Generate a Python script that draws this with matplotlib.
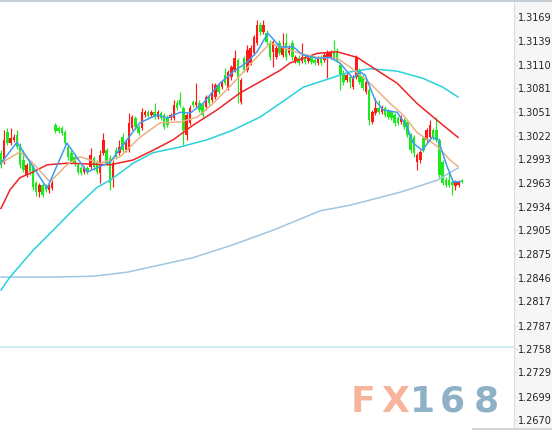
import numpy as np
import matplotlib.pyplot as plt
from matplotlib.patches import Rectangle
from matplotlib.lines import Line2D

# =================================
# DATA (prices in pips, i.e. price x 10000)
# =================================

opens = [
    13001, 12989, 13027, 13013, 13017, 13023, 13010, 12992, 12973, 12989,
    12983, 12963, 12952, 12961, 12960, 12955, 12957, 13035, 13032, 13032,
    13027, 13008, 13001, 12996, 12986, 12982, 12977, 12982, 12983, 12994,
    12988, 12976, 13001, 13004, 12994, 12970, 13004, 13001, 13020, 13004,
    13004, 13032, 13044, 13033, 13032, 13048, 13051, 13048, 13051, 13045,
    13050, 13048, 13045, 13044, 13044, 13062, 13066, 13056, 13023, 13038,
    13064, 13060, 13062, 13060, 13058, 13070, 13066, 13070, 13085, 13082,
    13097, 13081, 13095, 13103, 13116, 13064, 13118, 13103, 13112, 13124,
    13137, 13159, 13150, 13149, 13137, 13126, 13119, 13137, 13122, 13137,
    13124, 13137, 13114, 13118, 13114, 13119, 13114, 13119, 13116, 13112,
    13119, 13116, 13118, 13119, 13126, 13126, 13110, 13100, 13091, 13095,
    13082, 13095, 13103, 13095, 13076, 13079, 13039, 13050, 13056, 13051,
    13056, 13053, 13051, 13048, 13044, 13039, 13041, 13039, 13023, 13020,
    12989, 12992, 13019, 13017, 13020, 13029, 13029, 13017, 12989, 12967,
    12967, 12965, 12960, 12961, 12967,
]
highs = [
    13004, 13029, 13032, 13032, 13024, 13029, 13013, 13004, 12988, 12992,
    12986, 12966, 12963, 12963, 12962, 12962, 12967, 13038, 13034, 13034,
    13029, 13010, 13004, 12998, 12988, 12984, 12984, 12984, 13007, 12997,
    12992, 13004, 13025, 13007, 12998, 12992, 13008, 13017, 13025, 13017,
    13050, 13048, 13046, 13035, 13056, 13054, 13054, 13054, 13062, 13054,
    13053, 13050, 13048, 13050, 13066, 13066, 13076, 13059, 13050, 13060,
    13066, 13087, 13066, 13062, 13072, 13072, 13087, 13087, 13087, 13091,
    13106, 13103, 13110, 13128, 13118, 13093, 13121, 13134, 13134, 13147,
    13165, 13163, 13165, 13153, 13140, 13140, 13134, 13140, 13149, 13149,
    13134, 13140, 13122, 13122, 13137, 13122, 13121, 13122, 13118, 13121,
    13122, 13126, 13128, 13128, 13140, 13131, 13112, 13103, 13100, 13097,
    13097, 13122, 13106, 13097, 13091, 13081, 13054, 13069, 13066, 13060,
    13059, 13055, 13054, 13050, 13046, 13048, 13044, 13041, 13025, 13023,
    13001, 13004, 13022, 13032, 13041, 13032, 13045, 13019, 12992, 12971,
    12976, 12967, 12967, 12967, 12968,
]
lows = [
    12982, 12987, 13010, 13010, 13014, 13006, 12982, 12977, 12971, 12973,
    12955, 12947, 12946, 12946, 12952, 12951, 12955, 13025, 13025, 13023,
    13010, 12992, 12987, 12984, 12975, 12973, 12975, 12975, 12981, 12979,
    12975, 12963, 12998, 12986, 12955, 12958, 12993, 12998, 13002, 13002,
    13002, 13029, 13030, 13023, 13029, 13045, 13044, 13045, 13043, 13043,
    13041, 13030, 13033, 13041, 13041, 13054, 13058, 13010, 13017, 13035,
    13058, 13058, 13051, 13045, 13054, 13060, 13064, 13067, 13074, 13080,
    13085, 13079, 13091, 13101, 13062, 13061, 13101, 13101, 13110, 13122,
    13134, 13147, 13148, 13134, 13116, 13107, 13117, 13122, 13119, 13116,
    13122, 13116, 13112, 13110, 13112, 13111, 13112, 13111, 13110, 13110,
    13110, 13113, 13093, 13117, 13116, 13113, 13079, 13085, 13088, 13081,
    13080, 13092, 13086, 13079, 13074, 13035, 13036, 13048, 13049, 13049,
    13045, 13043, 13041, 13034, 13035, 13036, 13030, 13020, 13001, 12996,
    12979, 12988, 13002, 13014, 13017, 13017, 13014, 12970, 12961, 12958,
    12958, 12949, 12955, 12958, 12963,
]
closes = [
    12986, 13017, 13013, 13019, 13020, 13008, 12986, 12979, 12986, 12977,
    12958, 12952, 12961, 12949, 12955, 12960, 12963, 13028, 13028, 13025,
    13013, 12996, 12989, 12988, 12977, 12976, 12982, 12977, 12998, 12983,
    12977, 12998, 13017, 12988, 12963, 12988, 12996, 13008, 13004, 13013,
    13038, 13045, 13033, 13025, 13051, 13051, 13046, 13051, 13045, 13051,
    13044, 13033, 13035, 13048, 13060, 13056, 13060, 13029, 13048, 13056,
    13060, 13064, 13054, 13048, 13070, 13062, 13076, 13085, 13076, 13088,
    13087, 13101, 13107, 13118, 13095, 13091, 13103, 13128, 13131, 13144,
    13159, 13150, 13159, 13138, 13119, 13138, 13131, 13124, 13132, 13119,
    13131, 13119, 13119, 13112, 13119, 13113, 13118, 13113, 13112, 13118,
    13112, 13122, 13124, 13126, 13118, 13116, 13097, 13088, 13097, 13088,
    13095, 13119, 13088, 13081, 13088, 13041, 13051, 13056, 13051, 13056,
    13048, 13045, 13044, 13038, 13038, 13045, 13033, 13023, 13004, 13001,
    12998, 13002, 13004, 13029, 13035, 13019, 13017, 12973, 12963, 12961,
    12961, 12961, 12965, 12966, 12965,
]

# moving averages (candle index, value in pips)
ma5_at = [0, 5, 14.4, 20.6, 26.9, 34, 43.4, 48.8, 51.9, 55.9, 59.1, 63.1, 68.4,
          72.5, 76.9, 80, 83.4, 87.2, 91.3, 94.4, 98.8, 102.8, 105.9, 110,
          112.2, 113.8, 116.9, 119.4, 123.8, 126.9, 128.8, 131.6, 134.7,
          136.6, 139.4, 141.3, 143.4]
ma5 = [12988, 13014, 12957, 13013, 12977, 12989, 13038, 13048, 13044, 13051,
       13050, 13062, 13087, 13101, 13113, 13126, 13149, 13132, 13132, 13122,
       13118, 13119, 13112, 13093, 13101, 13097, 13066, 13054, 13051, 13033,
       13013, 13004, 13020, 13017, 12984, 12965, 12965]

ma10_at = [0, 5.9, 10, 15.3, 20.6, 24.7, 30.9, 37.2, 43.4, 49.7, 55.9, 61.3,
           66.3, 72.5, 77.8, 84.1, 88.1, 93.4, 98.8, 105, 109.1, 115.3, 121.6,
           125.6, 130, 136.3, 140.3, 142.8]
ma10 = [12988, 13002, 12988, 12965, 12986, 12996, 12988, 12996, 13020, 13038,
        13039, 13045, 13062, 13087, 13110, 13137, 13131, 13124, 13119, 13118,
        13107, 13087, 13062, 13048, 13026, 13009, 12992, 12984]

ma30_at = [0, 2.8, 5.9, 10, 14.4, 20.6, 34.1, 41.3, 47.5, 53.8, 60, 67.5, 74.7,
           81.9, 87.2, 90.3, 98.8, 105, 111.3, 117.5, 123.8, 130, 136.3, 142.8]
ma30 = [12932, 12955, 12970, 12977, 12986, 12988, 12986, 12992, 13004, 13017,
        13035, 13054, 13075, 13091, 13103, 13112, 13124, 13126, 13119, 13103,
        13087, 13062, 13041, 13020]

ma60_at = [0, 2.8, 10, 16.3, 22.5, 30, 34.1, 41.3, 47.5, 55.9, 64.4, 72.5,
           80.9, 87.2, 94.4, 102.8, 109.1, 115.3, 123.8, 131.9, 138.1, 142.8]
ma60 = [12831, 12847, 12880, 12905, 12930, 12958, 12967, 12988, 13001, 13008,
        13017, 13029, 13045, 13062, 13082, 13093, 13101, 13105, 13102, 13093,
        13082, 13070]

ma200_at = [0, 15.3, 28.8, 39.4, 49.7, 60, 72.5, 85, 99.7, 109.1, 124.7,
            136.3, 142.8]
ma200 = [12847, 12847, 12848, 12853, 12862, 12871, 12887, 12905, 12929,
         12936, 12952, 12967, 12982]

level_line = 12760

tick_labels = ["1.3169", "1.3139", "1.3110", "1.3081", "1.3051", "1.3022",
               "1.2993", "1.2963", "1.2934", "1.2905", "1.2875", "1.2846",
               "1.2817", "1.2787", "1.2758", "1.2729", "1.2699", "1.2670"]


def to_price(v):
    return np.array(v, dtype=float) / 10000.0


# =================================
# FIGURE
# =================================

W, H = 552, 430
fig = plt.figure(figsize=(W / 100, H / 100), dpi=100)

# grey axis panel on the right
fig.add_artist(Rectangle((514 / W, 0), 38 / W, 1, transform=fig.transFigure,
                         facecolor="#f6f6f6", edgecolor="none", zorder=-1))
fig.add_artist(Rectangle((472 / W, 0), 80 / W, 2 / H, transform=fig.transFigure,
                         facecolor="#d4d4d4", edgecolor="none", zorder=-1))

ax = fig.add_axes([0, 2 / H, 514 / W, 426 / H])

o = to_price(opens)
h = to_price(highs)
l = to_price(lows)
c = to_price(closes)
idx = np.arange(len(c))

up = c >= o
colors = np.where(up, "#ff1a1a", "#1ee81e")

# candles
ax.vlines(idx, l, h, colors=colors, linewidth=0.85, zorder=2)
body = np.maximum(np.abs(c - o), 0.00009)
ax.bar(idx, body, bottom=np.minimum(o, c), width=0.8, color=colors,
       linewidth=0, zorder=3)

# moving averages
ax.plot(ma200_at, to_price(ma200), color="#9fc6df", lw=1.1, zorder=4)
ax.plot(ma60_at, to_price(ma60), color="#27d2dc", lw=1.1, zorder=4)
ax.plot(ma30_at, to_price(ma30), color="#f02424", lw=1.1, zorder=4)
ax.plot(ma10_at, to_price(ma10), color="#e8b185", lw=1.1, zorder=5)
ax.plot(ma5_at, to_price(ma5), color="#3d9cf2", lw=1.1, zorder=6)

ax.axhline(level_line / 10000.0, color="#c3eef0", lw=1.2, zorder=1)

ax.set_xlim(-0.3125, 160.3)
ax.set_ylim(1.26601, 1.31876)

ax.set_xticks([])
ax.yaxis.tick_right()
ax.set_yticks([float(t) for t in tick_labels])
ax.set_yticklabels(tick_labels)
ax.tick_params(axis="y", length=3, width=0.8, color="#e2e2e2", pad=0,
               labelsize=7, labelcolor="#222222")

for side in ["top", "left", "bottom"]:
    ax.spines[side].set_visible(False)
ax.spines["right"].set_color("#dcdcdc")
ax.spines["right"].set_linewidth(0.8)

# top border
fig.add_artist(Line2D([0, 1], [1 - 1 / H, 1 - 1 / H], transform=fig.transFigure,
                      color="#c8ced6", lw=1.5))

# watermark, letters spaced like the logo
logo_chars = ["F", "X", "1", "6", "8"]
logo_x = [363, 395, 423, 452, 486]
logo_colors = ["#f6b59b", "#f6b59b", "#8fb1c7", "#8fb1c7", "#8fb1c7"]
for ch, xx, cc in zip(logo_chars, logo_x, logo_colors):
    fig.text(xx / W, 1 - 412 / H, ch, fontsize=26, fontweight="bold",
             color=cc, ha="center", va="baseline", zorder=10)

plt.savefig("out.png", dpi=100)
